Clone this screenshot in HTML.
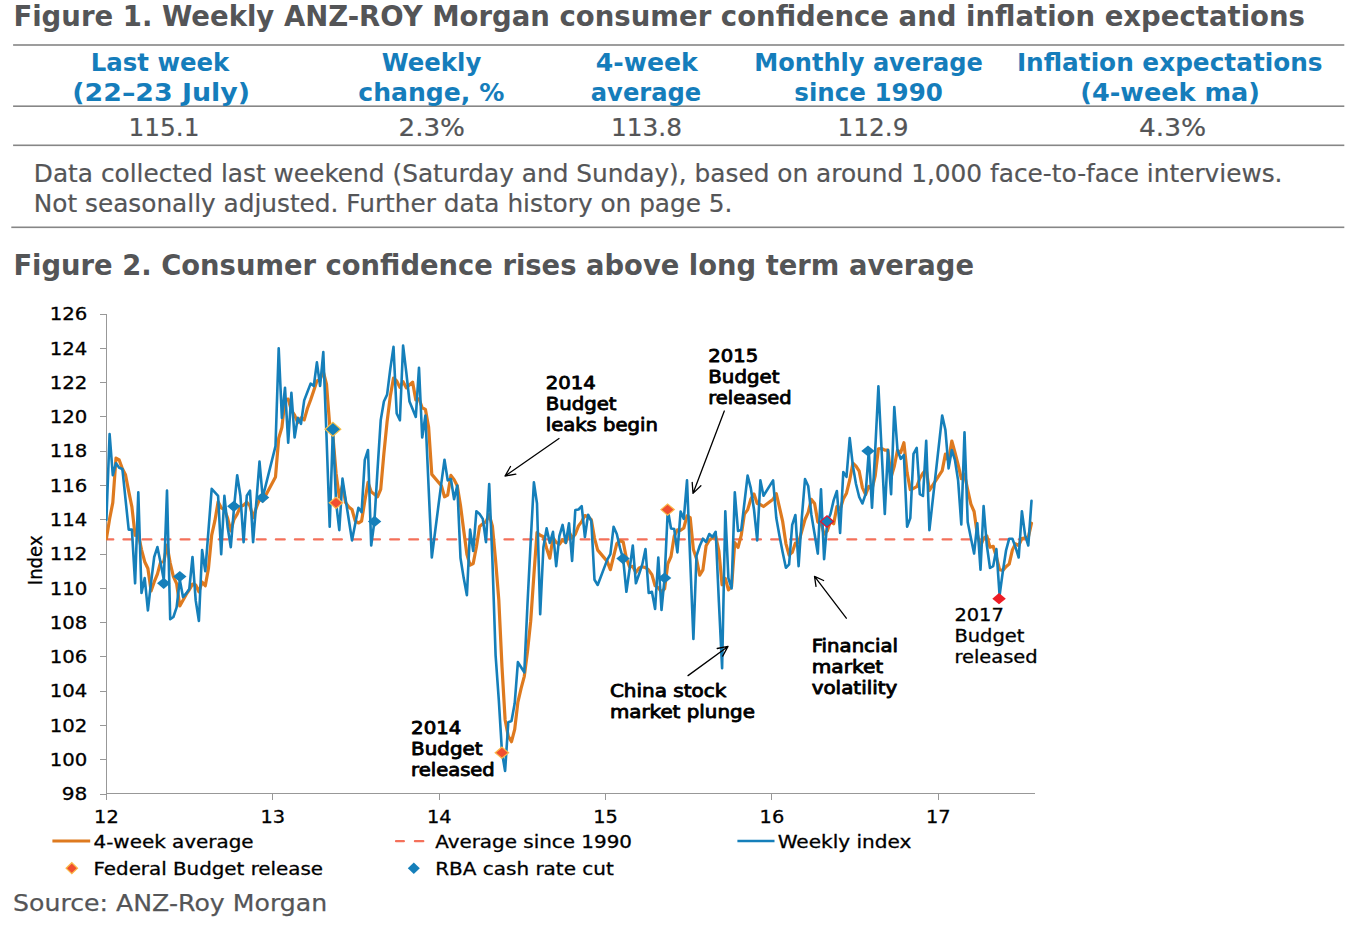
<!DOCTYPE html>
<html lang="en"><head><meta charset="utf-8"><title>ANZ-Roy Morgan consumer confidence</title>
<style>
html,body{margin:0;padding:0;background:#fff;}
body{width:1350px;height:934px;overflow:hidden;}
svg{display:block;font-family:"DejaVu Sans","Liberation Sans",Verdana,sans-serif;}
text{white-space:pre;}
</style></head><body>
<svg width="1350" height="934" viewBox="0 0 1350 934">
<text x="13.4" y="26.0" font-size="27.6" font-weight="bold" fill="#545557" textLength="1291.6" lengthAdjust="spacingAndGlyphs">Figure 1. Weekly ANZ-ROY Morgan consumer confidence and inflation expectations</text>
<rect x="13.1" y="44.2" width="1331.2" height="1.6" fill="#868686"/>
<rect x="13.1" y="105.4" width="1331.2" height="1.6" fill="#868686"/>
<rect x="13.1" y="144.5" width="1331.2" height="1.6" fill="#868686"/>
<rect x="11.3" y="226.5" width="1333.0" height="1.6" fill="#868686"/>
<text x="90.8" y="71.0" font-size="25.0" font-weight="bold" fill="#157dbb" textLength="138.5" lengthAdjust="spacingAndGlyphs">Last week</text>
<text x="72.3" y="100.8" font-size="25.0" font-weight="bold" fill="#157dbb" textLength="177.8" lengthAdjust="spacingAndGlyphs">(22–23 July)</text>
<text x="381.8" y="71.0" font-size="25.0" font-weight="bold" fill="#157dbb" textLength="99.5" lengthAdjust="spacingAndGlyphs">Weekly</text>
<text x="358.3" y="100.8" font-size="25.0" font-weight="bold" fill="#157dbb" textLength="146.0" lengthAdjust="spacingAndGlyphs">change, %</text>
<text x="595.8" y="71.0" font-size="25.0" font-weight="bold" fill="#157dbb" textLength="102.0" lengthAdjust="spacingAndGlyphs">4-week</text>
<text x="590.8" y="100.8" font-size="25.0" font-weight="bold" fill="#157dbb" textLength="110.5" lengthAdjust="spacingAndGlyphs">average</text>
<text x="754.3" y="71.0" font-size="25.0" font-weight="bold" fill="#157dbb" textLength="228.5" lengthAdjust="spacingAndGlyphs">Monthly average</text>
<text x="794.3" y="100.8" font-size="25.0" font-weight="bold" fill="#157dbb" textLength="148.5" lengthAdjust="spacingAndGlyphs">since 1990</text>
<text x="1016.9" y="71.0" font-size="25.0" font-weight="bold" fill="#157dbb" textLength="305.7" lengthAdjust="spacingAndGlyphs">Inflation expectations</text>
<text x="1080.3" y="100.8" font-size="25.0" font-weight="bold" fill="#157dbb" textLength="179.7" lengthAdjust="spacingAndGlyphs">(4-week ma)</text>
<text x="128.5" y="136.0" font-size="24" font-weight="normal" fill="#545557" textLength="71.0" lengthAdjust="spacingAndGlyphs" stroke="#545557" stroke-width="0.2">115.1</text>
<text x="398.5" y="136.0" font-size="24" font-weight="normal" fill="#545557" textLength="66.5" lengthAdjust="spacingAndGlyphs" stroke="#545557" stroke-width="0.2">2.3%</text>
<text x="611.0" y="136.0" font-size="24" font-weight="normal" fill="#545557" textLength="71.0" lengthAdjust="spacingAndGlyphs" stroke="#545557" stroke-width="0.2">113.8</text>
<text x="837.5" y="136.0" font-size="24" font-weight="normal" fill="#545557" textLength="71.0" lengthAdjust="spacingAndGlyphs" stroke="#545557" stroke-width="0.2">112.9</text>
<text x="1139.0" y="136.0" font-size="24" font-weight="normal" fill="#545557" textLength="67.2" lengthAdjust="spacingAndGlyphs" stroke="#545557" stroke-width="0.2">4.3%</text>
<text x="33.8" y="181.9" font-size="24" font-weight="normal" fill="#545557" textLength="1248.7" lengthAdjust="spacingAndGlyphs" stroke="#545557" stroke-width="0.2">Data collected last weekend (Saturday and Sunday), based on around 1,000 face-to-face interviews.</text>
<text x="33.8" y="211.6" font-size="24" font-weight="normal" fill="#545557" textLength="698.7" lengthAdjust="spacingAndGlyphs" stroke="#545557" stroke-width="0.2">Not seasonally adjusted. Further data history on page 5.</text>
<text x="13.4" y="274.9" font-size="27.6" font-weight="bold" fill="#545557" textLength="960.6" lengthAdjust="spacingAndGlyphs">Figure 2. Consumer confidence rises above long term average</text>
<path d="M106.4 313.6V793.5H1034.5" fill="none" stroke="#989898" stroke-width="1" shape-rendering="crispEdges"/>
<path d="M100 794.0H106.4" stroke="#989898" stroke-width="1" shape-rendering="crispEdges"/>
<text x="61.7" y="800.2" font-size="17.9" font-weight="normal" fill="#000" textLength="25.6" lengthAdjust="spacingAndGlyphs" stroke="#000" stroke-width="0.3">98</text>
<path d="M100 759.7H106.4" stroke="#989898" stroke-width="1" shape-rendering="crispEdges"/>
<text x="49.7" y="765.9" font-size="17.9" font-weight="normal" fill="#000" textLength="37.6" lengthAdjust="spacingAndGlyphs" stroke="#000" stroke-width="0.3">100</text>
<path d="M100 725.4H106.4" stroke="#989898" stroke-width="1" shape-rendering="crispEdges"/>
<text x="49.7" y="731.6" font-size="17.9" font-weight="normal" fill="#000" textLength="37.6" lengthAdjust="spacingAndGlyphs" stroke="#000" stroke-width="0.3">102</text>
<path d="M100 691.1H106.4" stroke="#989898" stroke-width="1" shape-rendering="crispEdges"/>
<text x="49.7" y="697.3" font-size="17.9" font-weight="normal" fill="#000" textLength="37.6" lengthAdjust="spacingAndGlyphs" stroke="#000" stroke-width="0.3">104</text>
<path d="M100 656.9H106.4" stroke="#989898" stroke-width="1" shape-rendering="crispEdges"/>
<text x="49.7" y="663.1" font-size="17.9" font-weight="normal" fill="#000" textLength="37.6" lengthAdjust="spacingAndGlyphs" stroke="#000" stroke-width="0.3">106</text>
<path d="M100 622.6H106.4" stroke="#989898" stroke-width="1" shape-rendering="crispEdges"/>
<text x="49.7" y="628.8" font-size="17.9" font-weight="normal" fill="#000" textLength="37.6" lengthAdjust="spacingAndGlyphs" stroke="#000" stroke-width="0.3">108</text>
<path d="M100 588.3H106.4" stroke="#989898" stroke-width="1" shape-rendering="crispEdges"/>
<text x="49.7" y="594.5" font-size="17.9" font-weight="normal" fill="#000" textLength="37.6" lengthAdjust="spacingAndGlyphs" stroke="#000" stroke-width="0.3">110</text>
<path d="M100 554.0H106.4" stroke="#989898" stroke-width="1" shape-rendering="crispEdges"/>
<text x="49.7" y="560.2" font-size="17.9" font-weight="normal" fill="#000" textLength="37.6" lengthAdjust="spacingAndGlyphs" stroke="#000" stroke-width="0.3">112</text>
<path d="M100 519.7H106.4" stroke="#989898" stroke-width="1" shape-rendering="crispEdges"/>
<text x="49.7" y="525.9" font-size="17.9" font-weight="normal" fill="#000" textLength="37.6" lengthAdjust="spacingAndGlyphs" stroke="#000" stroke-width="0.3">114</text>
<path d="M100 485.4H106.4" stroke="#989898" stroke-width="1" shape-rendering="crispEdges"/>
<text x="49.7" y="491.6" font-size="17.9" font-weight="normal" fill="#000" textLength="37.6" lengthAdjust="spacingAndGlyphs" stroke="#000" stroke-width="0.3">116</text>
<path d="M100 451.1H106.4" stroke="#989898" stroke-width="1" shape-rendering="crispEdges"/>
<text x="49.7" y="457.3" font-size="17.9" font-weight="normal" fill="#000" textLength="37.6" lengthAdjust="spacingAndGlyphs" stroke="#000" stroke-width="0.3">118</text>
<path d="M100 416.9H106.4" stroke="#989898" stroke-width="1" shape-rendering="crispEdges"/>
<text x="49.7" y="423.1" font-size="17.9" font-weight="normal" fill="#000" textLength="37.6" lengthAdjust="spacingAndGlyphs" stroke="#000" stroke-width="0.3">120</text>
<path d="M100 382.6H106.4" stroke="#989898" stroke-width="1" shape-rendering="crispEdges"/>
<text x="49.7" y="388.8" font-size="17.9" font-weight="normal" fill="#000" textLength="37.6" lengthAdjust="spacingAndGlyphs" stroke="#000" stroke-width="0.3">122</text>
<path d="M100 348.3H106.4" stroke="#989898" stroke-width="1" shape-rendering="crispEdges"/>
<text x="49.7" y="354.5" font-size="17.9" font-weight="normal" fill="#000" textLength="37.6" lengthAdjust="spacingAndGlyphs" stroke="#000" stroke-width="0.3">124</text>
<path d="M100 314.0H106.4" stroke="#989898" stroke-width="1" shape-rendering="crispEdges"/>
<text x="49.7" y="320.2" font-size="17.9" font-weight="normal" fill="#000" textLength="37.6" lengthAdjust="spacingAndGlyphs" stroke="#000" stroke-width="0.3">126</text>
<path d="M106.4 793.5V799.5" stroke="#989898" stroke-width="1" shape-rendering="crispEdges"/>
<text x="94.1" y="822.8" font-size="17.9" font-weight="normal" fill="#000" textLength="24.6" lengthAdjust="spacingAndGlyphs" stroke="#000" stroke-width="0.3">12</text>
<path d="M272.8 793.5V799.5" stroke="#989898" stroke-width="1" shape-rendering="crispEdges"/>
<text x="260.5" y="822.8" font-size="17.9" font-weight="normal" fill="#000" textLength="24.6" lengthAdjust="spacingAndGlyphs" stroke="#000" stroke-width="0.3">13</text>
<path d="M439.2 793.5V799.5" stroke="#989898" stroke-width="1" shape-rendering="crispEdges"/>
<text x="426.9" y="822.8" font-size="17.9" font-weight="normal" fill="#000" textLength="24.6" lengthAdjust="spacingAndGlyphs" stroke="#000" stroke-width="0.3">14</text>
<path d="M605.5 793.5V799.5" stroke="#989898" stroke-width="1" shape-rendering="crispEdges"/>
<text x="593.2" y="822.8" font-size="17.9" font-weight="normal" fill="#000" textLength="24.6" lengthAdjust="spacingAndGlyphs" stroke="#000" stroke-width="0.3">15</text>
<path d="M771.9 793.5V799.5" stroke="#989898" stroke-width="1" shape-rendering="crispEdges"/>
<text x="759.6" y="822.8" font-size="17.9" font-weight="normal" fill="#000" textLength="24.6" lengthAdjust="spacingAndGlyphs" stroke="#000" stroke-width="0.3">16</text>
<path d="M938.3 793.5V799.5" stroke="#989898" stroke-width="1" shape-rendering="crispEdges"/>
<text x="926.0" y="822.8" font-size="17.9" font-weight="normal" fill="#000" textLength="24.6" lengthAdjust="spacingAndGlyphs" stroke="#000" stroke-width="0.3">17</text>
<text transform="translate(42.3,585.2) rotate(-90)" font-size="19.2" fill="#000" stroke="#000" stroke-width="0.3" textLength="49.8" lengthAdjust="spacingAndGlyphs">Index</text>
<clipPath id="cp2"><rect x="106.4" y="530" width="926.2" height="20"/></clipPath>
<path d="M106.4 539.4H1031.5" stroke="#f4705a" stroke-width="2.2" stroke-linecap="round" stroke-dasharray="8.9 10.15" stroke-dashoffset="2.0" fill="none" clip-path="url(#cp2)"/>
<clipPath id="cp"><rect x="106.0" y="300" width="940" height="493"/></clipPath>
<g clip-path="url(#cp)" fill="none" stroke-linejoin="round" stroke-linecap="round">
<polyline points="106.4,538.7 109.6,518.9 112.8,502.6 116.0,458.1 119.2,460.0 122.4,468.8 125.5,474.8 128.7,491.4 131.9,506.9 135.1,535.4 138.3,533.7 141.5,549.6 144.7,561.7 147.9,568.5 151.1,590.9 154.2,581.9 157.4,574.1 160.6,562.2 163.8,561.6 167.0,545.1 170.2,563.1 173.4,576.7 176.6,583.6 179.8,605.9 183.0,600.3 186.2,594.4 189.3,589.8 192.5,584.1 195.7,585.0 198.9,591.8 202.1,582.1 205.3,585.7 208.5,568.1 211.7,535.1 214.9,520.7 218.1,501.8 221.2,507.8 224.4,509.5 227.6,518.1 230.8,530.9 234.0,519.4 237.2,514.2 240.4,506.5 243.6,505.2 246.8,502.2 250.0,506.1 253.1,517.7 256.3,507.8 259.5,499.2 262.7,500.9 275.5,476.9 278.7,438.3 281.9,427.4 285.0,400.0 288.2,399.1 291.4,410.3 294.6,415.2 297.8,422.7 301.0,418.0 304.2,419.9 307.4,408.5 310.6,400.0 313.8,390.5 316.9,381.0 320.1,379.5 323.3,371.6 326.5,384.1 329.7,425.1 332.9,435.9 336.1,473.5 339.3,497.1 342.5,485.1 345.6,502.6 348.8,506.9 352.0,509.5 355.2,520.9 358.4,523.0 361.6,521.1 364.8,500.9 368.0,482.4 371.2,491.8 374.4,494.2 377.5,496.8 380.7,489.4 383.9,453.3 387.1,421.6 390.3,396.3 393.5,378.0 396.7,381.0 399.9,387.4 403.1,381.6 406.3,387.9 409.5,384.9 412.6,382.1 415.8,399.9 419.0,398.8 422.2,407.8 425.4,409.4 428.6,427.0 431.8,474.4 441.4,485.7 444.5,496.8 447.7,495.1 450.9,475.4 454.1,479.6 457.3,486.0 460.5,505.4 463.7,530.2 466.9,554.2 470.1,565.2 473.2,563.5 476.4,546.8 479.6,526.4 482.8,523.8 486.0,521.6 489.2,514.7 492.4,526.2 495.6,560.3 498.8,599.8 502.0,666.9 505.1,719.7 508.3,736.4 511.5,741.7 514.7,729.4 517.9,702.1 521.1,688.4 524.3,676.3 527.5,651.4 530.7,621.2 533.9,574.9 537.0,532.7 540.2,535.3 543.4,536.8 546.6,548.3 549.8,558.2 553.0,537.6 556.2,542.3 559.4,544.2 562.6,539.7 565.8,542.5 569.0,531.8 572.1,538.0 575.3,534.3 578.5,525.9 581.7,521.6 584.9,515.6 588.1,516.8 591.3,519.7 594.5,538.1 597.7,550.1 607.2,561.4 610.4,569.7 613.6,556.4 616.8,543.7 620.0,540.7 623.2,542.0 626.4,558.3 629.6,567.0 632.8,566.4 635.9,572.4 639.1,567.9 642.3,566.8 645.5,567.6 648.7,570.1 651.9,574.6 655.1,585.7 658.3,587.8 661.5,592.1 664.6,588.7 667.8,563.8 671.0,556.5 674.2,536.3 677.4,529.8 680.6,530.3 683.8,528.0 687.0,515.8 690.2,517.7 693.4,549.6 696.5,558.8 699.7,575.2 702.9,569.9 706.1,545.7 709.3,540.2 712.5,537.9 715.7,536.2 718.9,551.2 722.1,584.8 725.3,578.4 728.4,589.9 731.6,586.5 734.8,542.5 738.0,547.5 741.2,535.4 744.4,514.1 747.6,509.9 750.8,499.2 754.0,494.0 757.2,503.4 760.4,504.6 763.5,506.5 773.1,499.2 776.3,493.6 779.5,507.5 782.7,521.7 785.9,543.6 789.1,555.1 792.2,552.4 795.4,543.0 798.6,542.6 801.8,531.0 805.0,519.5 808.2,512.3 811.4,499.4 814.6,503.4 817.8,522.1 821.0,522.9 824.1,534.1 827.3,530.9 830.5,521.0 833.7,523.7 836.9,506.6 840.1,509.5 843.3,499.0 846.5,493.2 849.7,480.0 852.9,463.2 856.0,466.2 859.2,471.2 862.4,487.6 865.6,494.6 868.8,486.4 872.0,489.1 875.2,475.8 878.4,448.8 881.6,448.5 884.8,450.1 887.9,450.1 891.1,477.0 894.3,466.2 897.5,450.3 900.7,452.5 903.9,442.7 907.1,472.6 910.3,489.7 913.5,488.4 916.7,486.7 919.8,478.5 923.0,473.0 926.2,469.7 929.4,490.3 942.2,470.6 945.4,454.1 948.6,461.0 951.8,441.0 954.9,452.1 958.1,464.7 961.3,478.7 964.5,474.3 967.7,489.8 970.9,504.2 974.1,511.5 977.3,534.2 980.5,546.1 983.6,538.2 986.8,536.0 990.0,547.2 993.2,546.3 996.4,557.0 999.6,569.6 1002.8,570.5 1006.0,566.7 1009.2,564.1 1012.4,549.9 1015.5,543.8 1018.7,545.5 1021.9,538.6 1025.1,537.8 1028.3,537.4 1031.5,523.2" stroke="#de7a1f" stroke-width="3.2"/>
<polyline points="106.4,519.8 109.6,434.0 112.8,475.2 116.0,463.2 119.2,467.7 122.4,469.0 125.5,499.2 128.7,529.6 131.9,529.6 135.1,583.3 138.3,492.4 141.5,593.0 144.7,578.1 147.9,610.4 151.1,582.1 154.2,557.0 157.4,547.1 160.6,562.7 163.8,579.8 167.0,490.6 170.2,619.3 173.4,617.0 176.6,607.3 179.8,579.8 183.0,597.0 186.2,593.5 189.3,588.9 192.5,557.0 195.7,600.4 198.9,621.0 202.1,550.0 205.3,571.2 208.5,530.1 211.7,488.9 214.9,492.4 218.1,495.8 221.2,554.1 224.4,495.8 227.6,526.7 230.8,547.2 234.0,507.8 237.2,475.2 240.4,495.8 243.6,542.1 246.8,495.8 250.0,490.6 253.1,542.1 256.3,502.6 259.5,461.5 262.7,497.5 275.5,446.1 278.7,348.3 281.9,417.9 285.0,387.7 288.2,442.6 291.4,392.9 294.6,437.5 297.8,417.9 301.0,423.8 304.2,400.4 307.4,392.0 310.6,383.6 313.8,386.0 316.9,362.4 320.1,386.0 323.3,352.1 326.5,435.8 329.7,526.7 332.9,428.9 336.1,502.6 339.3,530.1 342.5,478.6 345.6,499.2 348.8,519.8 352.0,540.4 355.2,524.1 358.4,507.8 361.6,512.1 364.8,459.8 368.0,450.0 371.2,545.5 374.4,521.5 377.5,470.1 380.7,420.3 383.9,401.5 387.1,394.6 390.3,368.9 393.5,346.9 396.7,413.5 399.9,420.3 403.1,345.6 406.3,372.3 409.5,401.5 412.6,409.0 415.8,416.9 419.0,367.7 422.2,437.5 425.4,415.5 428.6,487.2 431.8,557.5 441.4,482.6 444.5,459.8 447.7,480.4 450.9,479.0 454.1,499.2 457.3,485.5 460.5,558.0 463.7,578.1 466.9,595.3 470.1,529.6 473.2,551.0 476.4,511.2 479.6,514.0 482.8,518.9 486.0,542.1 489.2,484.0 492.4,559.9 495.6,655.3 498.8,699.9 502.0,752.5 505.1,771.0 508.3,722.2 511.5,721.0 514.7,703.3 517.9,662.1 521.1,667.3 524.3,672.4 527.5,603.8 530.7,541.1 533.9,482.4 537.0,503.5 540.2,614.1 543.4,547.2 546.6,528.4 549.8,543.0 553.0,531.8 556.2,566.1 559.4,535.9 562.6,524.9 565.8,543.0 569.0,523.2 572.1,561.0 575.3,510.0 578.5,509.5 581.7,506.1 584.9,537.0 588.1,514.7 591.3,521.0 594.5,579.8 597.7,585.0 607.2,559.9 610.4,554.1 613.6,526.7 616.8,534.0 620.0,547.9 623.2,559.2 626.4,591.8 629.6,569.0 632.8,545.5 635.9,583.3 639.1,574.0 642.3,564.4 645.5,549.0 648.7,593.0 651.9,591.8 655.1,609.0 658.3,557.5 661.5,610.0 664.6,578.1 667.8,509.5 671.0,528.4 674.2,529.1 677.4,552.4 680.6,511.6 683.8,518.9 687.0,480.4 690.2,559.9 693.4,639.0 696.5,555.8 699.7,546.0 702.9,538.7 706.1,542.1 709.3,534.0 712.5,537.0 715.7,531.8 718.9,602.1 722.1,668.3 725.3,511.2 728.4,578.1 731.6,588.4 734.8,492.4 738.0,530.9 741.2,530.1 744.4,503.0 747.6,475.6 750.8,488.1 754.0,509.5 757.2,540.4 760.4,480.4 763.5,495.8 773.1,480.4 776.3,518.1 779.5,535.9 782.7,552.4 785.9,567.8 789.1,564.4 792.2,524.9 795.4,515.0 798.6,566.1 801.8,518.1 805.0,479.0 808.2,486.0 811.4,514.7 814.6,534.0 817.8,553.6 821.0,489.4 824.1,559.2 827.3,521.5 830.5,514.0 833.7,500.1 836.9,491.0 840.1,533.0 843.3,472.0 846.5,476.9 849.7,438.0 852.9,465.9 856.0,484.0 859.2,497.0 862.4,503.5 865.6,494.1 868.8,451.2 872.0,507.8 875.2,450.0 878.4,386.4 881.6,450.0 884.8,514.0 887.9,450.0 891.1,494.1 894.3,407.0 897.5,450.0 900.7,458.9 903.9,455.0 907.1,526.7 910.3,518.1 913.5,453.9 916.7,447.9 919.8,494.1 923.0,496.0 926.2,440.9 929.4,530.1 942.2,415.5 945.4,429.9 948.6,468.4 951.8,450.0 954.9,459.9 958.1,480.4 961.3,524.4 964.5,432.3 967.7,522.0 970.9,538.0 974.1,553.6 977.3,523.2 980.5,569.7 983.6,506.1 986.8,545.0 990.0,568.0 993.2,566.1 996.4,549.0 999.6,595.3 1002.8,571.8 1006.0,550.7 1009.2,538.7 1012.4,538.7 1015.5,547.1 1018.7,557.5 1021.9,511.2 1025.1,535.2 1028.3,545.5 1031.5,500.9" stroke="#157fba" stroke-width="2.6"/>
</g>
<path d="M157.0 583.3L163.7 577.7L170.4 583.3L163.7 588.9Z" fill="#157fba"/>
<path d="M173.1 576.5L179.8 570.9L186.5 576.5L179.8 582.1Z" fill="#157fba"/>
<path d="M227.1 506.3L233.8 500.7L240.5 506.3L233.8 511.9Z" fill="#157fba"/>
<path d="M255.9 497.6L262.6 492.0L269.3 497.6L262.6 503.2Z" fill="#157fba"/>
<path d="M325.0 429.2L332.9 422.3L340.8 429.2L332.9 436.1Z" fill="#157fba" stroke="#f9c04a" stroke-width="1.2"/>
<path d="M367.9 521.4L374.6 515.8L381.3 521.4L374.6 527.0Z" fill="#157fba"/>
<path d="M616.3 558.6L623.0 553.0L629.7 558.6L623.0 564.2Z" fill="#157fba"/>
<path d="M657.9 578.0L664.6 572.4L671.3 578.0L664.6 583.6Z" fill="#157fba"/>
<path d="M820.3 521.5L827.0 515.9L833.7 521.5L827.0 527.1Z" fill="#157fba" stroke="#e8112d" stroke-width="1.2"/>
<path d="M861.3 451.0L868.0 445.4L874.7 451.0L868.0 456.6Z" fill="#157fba"/>
<path d="M329.3 502.8L336.0 497.2L342.7 502.8L336.0 508.4Z" fill="#f04e30" stroke="#f9b949" stroke-width="1.2"/>
<path d="M495.2 752.7L501.9 747.1L508.6 752.7L501.9 758.3Z" fill="#f04e30" stroke="#f9b949" stroke-width="1.2"/>
<path d="M660.9 509.6L667.6 504.0L674.3 509.6L667.6 515.2Z" fill="#f04e30" stroke="#f9b949" stroke-width="1.2"/>
<path d="M992.3 598.7L999.0 593.1L1005.8 598.7L999.0 604.3Z" fill="#ee1c25"/>
<text x="545.8" y="389.1" font-size="17.9" font-weight="normal" fill="#000" textLength="50.0" lengthAdjust="spacingAndGlyphs" stroke="#000" stroke-width="0.85" stroke-linejoin="round">2014</text>
<text x="545.8" y="410.2" font-size="17.9" font-weight="normal" fill="#000" textLength="70.8" lengthAdjust="spacingAndGlyphs" stroke="#000" stroke-width="0.85" stroke-linejoin="round">Budget</text>
<text x="545.8" y="431.3" font-size="17.9" font-weight="normal" fill="#000" textLength="112.0" lengthAdjust="spacingAndGlyphs" stroke="#000" stroke-width="0.85" stroke-linejoin="round">leaks begin</text>
<text x="708.3" y="362.1" font-size="17.9" font-weight="normal" fill="#000" textLength="49.9" lengthAdjust="spacingAndGlyphs" stroke="#000" stroke-width="0.85" stroke-linejoin="round">2015</text>
<text x="708.3" y="383.2" font-size="17.9" font-weight="normal" fill="#000" textLength="71.1" lengthAdjust="spacingAndGlyphs" stroke="#000" stroke-width="0.85" stroke-linejoin="round">Budget</text>
<text x="708.3" y="404.3" font-size="17.9" font-weight="normal" fill="#000" textLength="83.3" lengthAdjust="spacingAndGlyphs" stroke="#000" stroke-width="0.85" stroke-linejoin="round">released</text>
<text x="411.1" y="734.1" font-size="17.9" font-weight="normal" fill="#000" textLength="50.3" lengthAdjust="spacingAndGlyphs" stroke="#000" stroke-width="0.85" stroke-linejoin="round">2014</text>
<text x="411.1" y="755.2" font-size="17.9" font-weight="normal" fill="#000" textLength="71.5" lengthAdjust="spacingAndGlyphs" stroke="#000" stroke-width="0.85" stroke-linejoin="round">Budget</text>
<text x="411.1" y="776.3" font-size="17.9" font-weight="normal" fill="#000" textLength="83.7" lengthAdjust="spacingAndGlyphs" stroke="#000" stroke-width="0.85" stroke-linejoin="round">released</text>
<text x="609.9" y="697.3" font-size="17.9" font-weight="normal" fill="#000" textLength="116.4" lengthAdjust="spacingAndGlyphs" stroke="#000" stroke-width="0.85" stroke-linejoin="round">China stock</text>
<text x="609.9" y="718.0" font-size="17.9" font-weight="normal" fill="#000" textLength="145.0" lengthAdjust="spacingAndGlyphs" stroke="#000" stroke-width="0.85" stroke-linejoin="round">market plunge</text>
<text x="811.7" y="652.0" font-size="17.9" font-weight="normal" fill="#000" textLength="86.3" lengthAdjust="spacingAndGlyphs" stroke="#000" stroke-width="0.85" stroke-linejoin="round">Financial</text>
<text x="811.7" y="672.9" font-size="17.9" font-weight="normal" fill="#000" textLength="71.5" lengthAdjust="spacingAndGlyphs" stroke="#000" stroke-width="0.85" stroke-linejoin="round">market</text>
<text x="811.7" y="693.8" font-size="17.9" font-weight="normal" fill="#000" textLength="85.6" lengthAdjust="spacingAndGlyphs" stroke="#000" stroke-width="0.85" stroke-linejoin="round">volatility</text>
<text x="954.4" y="620.8" font-size="17.9" font-weight="normal" fill="#000" textLength="49.4" lengthAdjust="spacingAndGlyphs" stroke="#000" stroke-width="0.3">2017</text>
<text x="954.4" y="641.8" font-size="17.9" font-weight="normal" fill="#000" textLength="70.0" lengthAdjust="spacingAndGlyphs" stroke="#000" stroke-width="0.3">Budget</text>
<text x="954.4" y="662.8" font-size="17.9" font-weight="normal" fill="#000" textLength="83.3" lengthAdjust="spacingAndGlyphs" stroke="#000" stroke-width="0.3">released</text>
<path d="M559.0 438.5L505.0 476.0M510.5 466.5L505.0 476.0L515.8 474.2" stroke="#000" stroke-width="1.3" fill="none" stroke-linecap="round" stroke-linejoin="round"/>
<path d="M724.3 411.0L693.0 493.4M692.2 482.4L693.0 493.4L700.9 485.8" stroke="#000" stroke-width="1.3" fill="none" stroke-linecap="round" stroke-linejoin="round"/>
<path d="M688.0 675.6L728.0 646.4M722.7 656.1L728.0 646.4L717.2 648.5" stroke="#000" stroke-width="1.3" fill="none" stroke-linecap="round" stroke-linejoin="round"/>
<path d="M846.3 618.2L814.5 576.4M823.6 580.5L814.5 576.4L816.0 586.3" stroke="#000" stroke-width="1.3" fill="none" stroke-linecap="round" stroke-linejoin="round"/>
<path d="M52.4 841H90.2" stroke="#de7a1f" stroke-width="2.8"/>
<text x="93.5" y="847.5" font-size="17.9" font-weight="normal" fill="#000" textLength="160.1" lengthAdjust="spacingAndGlyphs" stroke="#000" stroke-width="0.3">4-week average</text>
<path d="M396 841.2H403.9M414.9 841.2H423.3" stroke="#f4705a" stroke-width="2.2" stroke-linecap="round"/>
<text x="435.2" y="847.5" font-size="17.9" font-weight="normal" fill="#000" textLength="196.8" lengthAdjust="spacingAndGlyphs" stroke="#000" stroke-width="0.3">Average since 1990</text>
<path d="M737.4 841H774.5" stroke="#157fba" stroke-width="2.3"/>
<text x="777.7" y="847.5" font-size="17.9" font-weight="normal" fill="#000" textLength="133.8" lengthAdjust="spacingAndGlyphs" stroke="#000" stroke-width="0.3">Weekly index</text>
<path d="M66.1 868.2L71.8 862.7L77.5 868.2L71.8 873.7Z" fill="#f04e30" stroke="#f9b949" stroke-width="1.2"/>
<text x="93.5" y="874.5" font-size="17.9" font-weight="normal" fill="#000" textLength="229.5" lengthAdjust="spacingAndGlyphs" stroke="#000" stroke-width="0.3">Federal Budget release</text>
<path d="M407.8 868.2L413.8 862.4L419.8 868.2L413.8 874.0Z" fill="#157fba"/>
<text x="435.2" y="874.5" font-size="17.9" font-weight="normal" fill="#000" textLength="178.6" lengthAdjust="spacingAndGlyphs" stroke="#000" stroke-width="0.3">RBA cash rate cut</text>
<text x="13.0" y="911.0" font-size="23.6" font-weight="normal" fill="#545557" textLength="314.2" lengthAdjust="spacingAndGlyphs" stroke="#58595b" stroke-width="0.25">Source: ANZ-Roy Morgan</text>
</svg>
</body></html>
